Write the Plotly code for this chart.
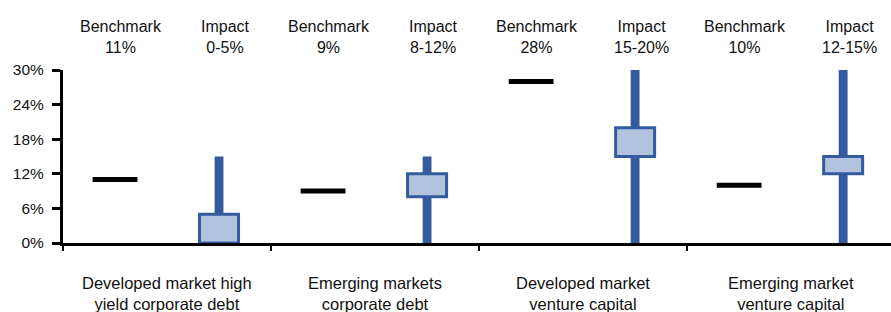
import plotly.graph_objects as go

categories = ["Developed market high<br>yield corporate debt",
              "Emerging markets<br>corporate debt",
              "Developed market<br>venture capital",
              "Emerging market<br>venture capital"]
benchmark = [11, 9, 28, 10]
benchmark_labels = ["11%", "9%", "28%", "10%"]
impact_low = [0, 8, 15, 12]
impact_high = [5, 12, 20, 15]
impact_whisker_top = [15, 15, 30, 30]
impact_labels = ["0-5%", "8-12%", "15-20%", "12-15%"]
y_ticks = [0, 6, 12, 18, 24, 30]

FONT = "Liberation Sans, Arial, sans-serif"
BLUE = "#335B9E"
FILL = "#B2C3DD"
TXT = "#111111"

n = len(categories)
bench_x = [2 * i for i in range(n)]
imp_x = [2 * i + 1 for i in range(n)]

fig = go.Figure()
fig.add_trace(go.Bar(x=imp_x, y=impact_whisker_top, base=[0] * n, width=0.085,
                     marker=dict(color=BLUE, line=dict(width=0)), hoverinfo="skip"))
fig.add_trace(go.Bar(x=imp_x, y=[h - l for h, l in zip(impact_high, impact_low)], base=impact_low,
                     width=0.375, marker=dict(color=FILL, line=dict(color=BLUE, width=3)),
                     hoverinfo="skip"))
fig.add_trace(go.Scatter(x=bench_x, y=benchmark, mode="markers",
                         marker=dict(symbol="line-ew", size=32, color="black",
                                     line=dict(color="black", width=5)),
                         hoverinfo="skip"))

annotations = []
for i in range(n):
    annotations.append(dict(x=bench_x[i], y=1, xref="x", yref="paper", yanchor="bottom",
                            text="Benchmark<br>" + benchmark_labels[i], showarrow=False,
                            yshift=12, xshift=6, font=dict(size=16, color=TXT)))
    annotations.append(dict(x=imp_x[i], y=1, xref="x", yref="paper", yanchor="bottom",
                            text="Impact<br>" + impact_labels[i], showarrow=False,
                            yshift=12, xshift=6, font=dict(size=16, color=TXT)))
    annotations.append(dict(x=2 * i + 0.5, y=0, xref="x", yref="paper", yanchor="top",
                            text=categories[i], showarrow=False, yshift=-29,
                            font=dict(size=16.5, color=TXT)))

fig.update_layout(
    width=891, height=312,
    margin=dict(l=63, r=0, t=70, b=69),
    paper_bgcolor="white", plot_bgcolor="white",
    barmode="overlay", showlegend=False,
    font=dict(family=FONT, size=16, color=TXT),
    annotations=annotations,
    xaxis=dict(range=[-0.5, 7.46], showgrid=False, zeroline=False,
               showline=True, linecolor="black", linewidth=3,
               tickvals=[-0.5, 1.5, 3.5, 5.5, 7.5], ticks="outside", ticklen=5,
               tickwidth=2, tickcolor="black", showticklabels=False),
    yaxis=dict(range=[0, 30], tickvals=y_ticks, ticktext=[f"{v}%" for v in y_ticks],
               showgrid=False, zeroline=False, showline=True, linecolor="black",
               linewidth=3, ticks="outside", ticklen=8, tickwidth=3, tickcolor="black",
               ticklabelstandoff=5, tickfont=dict(size=15.5, color=TXT)),
)

fig.write_html("out.html", config={"displayModeBar": False},
               post_script="document.body.style.margin='0';document.body.style.overflow='hidden';")
